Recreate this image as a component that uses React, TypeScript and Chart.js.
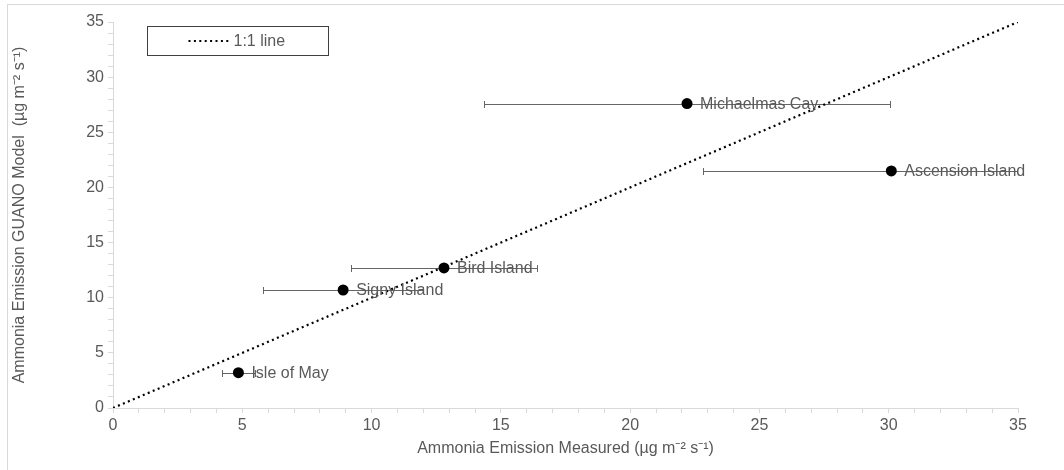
import React, { useEffect, useRef } from 'react';
import { Chart, registerables } from 'chart.js';

Chart.register(...registerables);

// ---- data ----
const siteNames = ['Isle of May', 'Signy Island', 'Bird Island', 'Michaelmas Cay', 'Ascension Island'];
const measured = [4.85, 8.9, 12.8, 22.2, 30.1];
const modelled = [3.2, 10.7, 12.7, 27.6, 21.5];
const measuredErr = [0.65, 3.1, 3.6, 7.85, 7.3];
const oneToOneX = [0, 35];
const oneToOneY = [0, 35];
const axisMin = 0;
const axisMax = 35;
const majorStep = 5;
const minorStep = 1;
const xTitle = 'Ammonia Emission Measured (µg m⁻² s⁻¹)';
const yTitle = 'Ammonia Emission GUANO Model  (µg m⁻² s⁻¹)';
const lineLabel = '1:1 line';

const FONT = '"Liberation Sans", Arial, sans-serif';
const TEXT = '#595959';
const AXIS = '#d9d9d9';
const LINE_DASH = [2, 3.4];

const errorBarPlugin = {
  id: 'errorBars',
  beforeDatasetsDraw(chart: any) {
    const { ctx, chartArea, scales } = chart;
    const xs = scales.x;
    const ys = scales.y;
    ctx.save();
    ctx.beginPath();
    ctx.rect(chartArea.left, chartArea.top - 10, chartArea.right - chartArea.left, chartArea.bottom - chartArea.top + 20);
    ctx.clip();
    ctx.strokeStyle = '#666666';
    ctx.lineWidth = 1;
    for (let i = 0; i < measured.length; i++) {
      const x0 = Math.round(xs.getPixelForValue(measured[i] - measuredErr[i])) + 0.5;
      const x1 = Math.round(xs.getPixelForValue(measured[i] + measuredErr[i])) + 0.5;
      const y = Math.round(ys.getPixelForValue(modelled[i])) + 0.5;
      ctx.beginPath();
      ctx.moveTo(x0, y);
      ctx.lineTo(x1, y);
      ctx.moveTo(x0, y - 3.5);
      ctx.lineTo(x0, y + 3.5);
      ctx.moveTo(x1, y - 3.5);
      ctx.lineTo(x1, y + 3.5);
      ctx.stroke();
    }
    ctx.restore();
  },
};

const pointLabelPlugin = {
  id: 'pointLabels',
  afterDatasetsDraw(chart: any) {
    const { ctx } = chart;
    const meta = chart.getDatasetMeta(1);
    ctx.save();
    ctx.font = `16px ${FONT}`;
    ctx.fillStyle = TEXT;
    ctx.textAlign = 'left';
    ctx.textBaseline = 'middle';
    meta.data.forEach((pt: any, i: number) => {
      ctx.fillText(siteNames[i], pt.x + 13, pt.y + 1);
    });
    ctx.restore();
  },
};

const boxLegendPlugin = {
  id: 'boxLegend',
  afterDraw(chart: any) {
    const { ctx, chartArea } = chart;
    const ds = chart.data.datasets[0];
    const bx = chartArea.left + 34.5;
    const by = chartArea.top + 4.5;
    const bw = 181;
    const bh = 29;
    ctx.save();
    ctx.fillStyle = '#ffffff';
    ctx.fillRect(bx, by, bw, bh);
    ctx.strokeStyle = '#404040';
    ctx.lineWidth = 1;
    ctx.strokeRect(bx, by, bw, bh);
    const cy = by + bh / 2;
    ctx.strokeStyle = ds.borderColor;
    ctx.lineWidth = ds.borderWidth;
    ctx.setLineDash(ds.borderDash);
    ctx.beginPath();
    ctx.moveTo(bx + 41, cy);
    ctx.lineTo(bx + 81, cy);
    ctx.stroke();
    ctx.setLineDash([]);
    ctx.font = `16px ${FONT}`;
    ctx.fillStyle = TEXT;
    ctx.textAlign = 'left';
    ctx.textBaseline = 'middle';
    ctx.fillText(ds.label, bx + 86, cy + 1);
    ctx.restore();
  },
};

export default function App() {
  const canvasRef = useRef<HTMLCanvasElement | null>(null);

  useEffect(() => {
    if (!canvasRef.current) return;
    const tickCb = (v: any) => (Math.round(v) % majorStep === 0 ? String(Math.round(v)) : '');
    const chart = new Chart(canvasRef.current, {
      type: 'scatter',
      data: {
        datasets: [
          {
            label: lineLabel,
            data: oneToOneX.map((x, i) => ({ x, y: oneToOneY[i] })),
            showLine: true,
            borderColor: '#000000',
            borderWidth: 2.2,
            borderDash: LINE_DASH,
            borderCapStyle: 'butt',
            pointRadius: 0,
            fill: false,
          },
          {
            label: 'Sites',
            data: measured.map((x, i) => ({ x, y: modelled[i] })),
            backgroundColor: '#000000',
            borderColor: '#000000',
            borderWidth: 0,
            pointRadius: 5.5,
            pointHoverRadius: 5.5,
          },
        ],
      },
      options: {
        animation: false,
        responsive: false,
        maintainAspectRatio: false,
        events: [],
        layout: { padding: { left: 0, right: 46, top: 22, bottom: 0 } },
        plugins: {
          legend: { display: false },
          tooltip: { enabled: false },
        },
        scales: {
          x: {
            type: 'linear',
            min: axisMin,
            max: axisMax,
            afterFit: (s: any) => {
              s.height = 62;
            },
            ticks: {
              stepSize: minorStep,
              autoSkip: false,
              maxRotation: 0,
              callback: tickCb,
              color: TEXT,
              font: { family: FONT, size: 16 },
              padding: 3,
            },
            grid: {
              drawOnChartArea: false,
              drawTicks: true,
              tickLength: 5,
              color: AXIS,
            },
            border: { color: AXIS, width: 1 },
            title: {
              display: true,
              text: xTitle,
              color: TEXT,
              font: { family: FONT, size: 16 },
              padding: { top: 0, bottom: 12 },
            },
          },
          y: {
            type: 'linear',
            min: axisMin,
            max: axisMax,
            afterFit: (s: any) => {
              s.width = 113;
            },
            ticks: {
              stepSize: minorStep,
              autoSkip: false,
              callback: tickCb,
              color: TEXT,
              font: { family: FONT, size: 16 },
              padding: 4,
            },
            grid: {
              drawOnChartArea: false,
              drawTicks: true,
              tickLength: 5,
              color: AXIS,
            },
            border: { color: AXIS, width: 1 },
            title: {
              display: true,
              text: yTitle,
              color: TEXT,
              font: { family: FONT, size: 16 },
              padding: { top: 10, bottom: 0 },
            },
          },
        },
      },
      plugins: [errorBarPlugin, pointLabelPlugin, boxLegendPlugin],
    } as any);
    return () => chart.destroy();
  }, []);

  return (
    <div style={{ position: 'fixed', left: 0, top: 0, width: 1064, height: 470, overflow: 'hidden', background: '#ffffff' }}>
      <div
        style={{
          position: 'absolute',
          left: 7,
          top: 4,
          width: 1100,
          height: 500,
          border: `1px solid ${AXIS}`,
          boxSizing: 'border-box',
        }}
      />
      <canvas
        ref={canvasRef}
        width={1064}
        height={470}
        style={{ position: 'absolute', left: 0, top: 0, width: 1064, height: 470 }}
      />
    </div>
  );
}
